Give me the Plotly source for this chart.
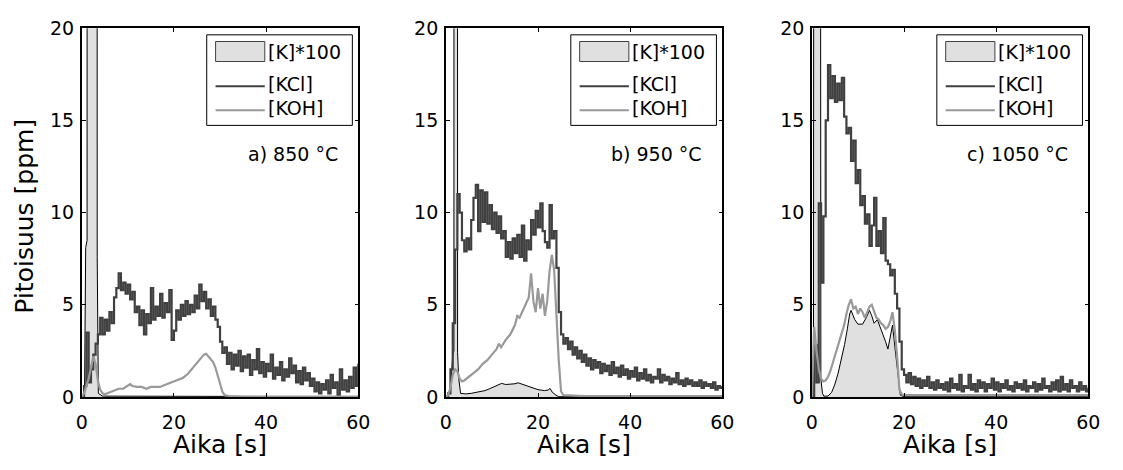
import numpy as np
import plotly.graph_objects as go

FONT = "DejaVu Sans"
W, H = 1123, 470

# ---- data -----------------------------------------------------------------
panel_labels = ["a) 850 °C", "b) 950 °C", "c) 1050 °C"]
series_names = ["[K]*100", "[KCl]", "[KOH]"]
x_ticks = [0, 20, 40, 60]
y_ticks = [0, 5, 10, 15, 20]

# KCl sampled every 0.5 s from 0 to 60 s
t_kcl = np.arange(0, 60.5, 0.5)

kcl_850 = [
    0.0, 0.6, 3.5, 0.8, 1.5, 2.3, 2.9, 3.4, 4.3, 3.4,
    4.2, 3.6, 4.6, 4.0, 5.4, 5.9, 6.7, 5.8, 6.2, 5.6,
    6.1, 5.3, 5.7, 4.6, 4.9, 3.9, 4.7, 3.4, 4.5, 4.0,
    5.9, 4.2, 4.9, 4.4, 5.6, 4.3, 5.1, 4.6, 5.8, 3.1,
    3.6, 4.7, 4.2, 5.0, 4.4, 5.2, 4.5, 5.0, 4.6, 5.5,
    4.8, 6.1, 5.2, 5.7, 4.8, 5.3, 4.4, 4.9, 4.2, 3.8,
    3.0, 2.4, 2.7, 1.8, 2.4, 1.5, 2.3, 1.7, 2.5, 1.4,
    2.2, 1.6, 2.3, 1.2, 2.0, 1.5, 2.6, 1.3, 1.9, 1.1,
    1.8, 1.4, 2.3, 1.0, 1.6, 1.2, 1.9, 0.9, 1.5, 1.1,
    2.1, 1.3, 1.7, 0.8, 1.4, 0.7, 1.6, 0.9, 1.3, 0.6,
    1.0, 0.3, 0.8, 0.2, 0.7, 0.4, 0.9, 0.2, 1.2, 0.5,
    0.8, 0.1, 1.5, 0.4, 0.9, 0.3, 1.1, 0.5, 1.6, 0.6,
    1.8,
]
kcl_950 = [
    0.0, 0.2, 1.5, 4.0, 8.0, 11.0, 10.0, 8.5, 7.9, 8.6,
    8.0, 9.6, 10.8, 11.5, 9.0, 11.2, 9.5, 11.1, 9.4, 10.4,
    9.1, 10.0, 8.9, 9.8, 8.6, 9.0, 7.6, 8.4, 7.5, 8.6,
    7.8, 8.8, 7.6, 9.3, 7.4, 8.5, 8.0, 9.6, 8.8, 10.1,
    9.2, 10.5, 9.0, 8.4, 8.1, 10.4, 8.6, 9.0, 7.0, 4.6,
    3.4, 2.9, 3.2, 2.6, 3.0, 2.3, 2.7, 2.1, 2.5, 1.9,
    2.3, 1.7, 2.1, 1.5, 2.0, 1.6, 1.9, 1.3, 1.8, 1.4,
    1.7, 1.2, 1.9, 1.3, 1.6, 1.1, 1.7, 1.2, 1.5, 1.0,
    1.4, 1.1, 1.6, 0.9, 1.3, 1.0, 1.5, 0.9, 1.2, 0.8,
    1.1, 1.0, 1.5, 0.8, 1.2, 0.9, 1.1, 0.7, 1.0, 0.8,
    1.3, 0.7, 0.9, 0.6, 1.0, 0.7, 0.9, 0.6, 0.8, 0.6,
    0.9, 0.5, 0.8, 0.6, 0.7, 0.5, 0.8, 0.4, 0.6, 0.5,
    0.6,
]
kcl_1050 = [
    0.0, 2.8, 0.8, 10.5, 6.2, 9.8, 15.0, 18.0, 16.2, 17.4,
    16.0, 17.0, 16.1, 17.3, 15.2, 14.3, 14.6, 12.8, 13.9, 11.6,
    12.3, 10.4, 10.9, 9.4, 9.9, 8.2, 9.3, 10.8, 8.2, 9.0,
    7.8, 9.7, 7.4, 7.2, 6.6, 6.9, 5.6, 4.8, 3.0, 1.5,
    1.2, 0.8, 1.3, 0.7, 1.1, 0.6, 1.0, 0.5, 0.9, 0.6,
    1.1, 0.5, 0.8, 0.4, 0.9, 0.5, 0.7, 0.4, 0.8, 0.3,
    1.0, 0.5, 0.7, 0.4, 1.2, 0.3, 0.6, 0.5, 1.2, 0.4,
    0.7, 0.3, 0.9, 0.5, 0.8, 0.3, 0.7, 0.5, 1.0, 0.4,
    0.8, 0.3, 0.7, 0.5, 0.9, 0.4, 0.6, 0.3, 0.8, 0.5,
    0.7, 0.4, 0.9, 0.3, 0.6, 0.5, 0.8, 0.3, 0.7, 0.4,
    1.0, 0.5, 0.6, 0.3, 0.8, 0.4, 0.9, 0.3, 1.1, 0.4,
    0.7, 0.3, 0.9, 0.5, 0.6, 0.3, 0.8, 0.4, 0.6, 0.3,
    0.5,
]

# KOH
t_koh_850 = [0, 0.5, 1, 1.5, 2, 2.5, 3, 3.5, 4, 4.5,
             5, 6, 7, 8, 9, 10, 10.5, 11, 12, 13,
             14, 15, 16, 17, 18, 19, 20, 21, 22, 23,
             24, 25, 26, 26.5, 27, 27.5, 28, 28.5, 29, 29.5,
             30, 30.5, 31, 32, 35, 40, 45, 50, 55, 60]
koh_850 = [0, 0.2, 0.6, 1.0, 1.6, 2.2, 1.8, 0.9, 0.4, 0.2,
           0.15, 0.25, 0.35, 0.45, 0.45, 0.6, 0.7, 0.6, 0.55, 0.55,
           0.45, 0.55, 0.55, 0.55, 0.65, 0.75, 0.85, 0.95, 1.05, 1.25,
           1.55, 1.8, 2.15, 2.3, 2.35, 2.2, 2.1, 1.9, 1.6, 1.2,
           0.8, 0.3, 0.1, 0.05, 0.03, 0.03, 0.02, 0.02, 0.02, 0.02]

t_koh_950 = [0, 0.5, 1, 1.5, 2, 2.5, 3, 3.5, 4, 5,
             6, 7, 8, 9, 10, 11, 11.5, 12, 13, 14,
             15, 15.5, 16, 17, 17.5, 18, 18.5, 19, 19.5, 20,
             20.5, 21, 21.5, 22, 22.5, 23, 23.5, 24, 24.5, 25,
             25.5, 30, 40, 50, 60]
koh_950 = [0, 0.1, 0.5, 1.2, 1.5, 1.4, 1.0, 0.85, 0.9, 1.1,
           1.3, 1.5, 1.8, 2.0, 2.3, 2.6, 2.9, 2.7, 3.1, 3.4,
           3.9, 4.4, 4.3, 4.9, 5.2, 5.4, 6.7, 5.2, 4.6, 5.9,
           4.8, 5.6, 4.4, 5.2, 6.8, 7.7, 6.9, 4.4, 2.0, 0.3,
           0.1, 0.05, 0.05, 0.05, 0.05]

t_koh_1050 = [0, 0.5, 1, 1.5, 2, 2.5, 3, 3.5, 4, 4.5,
              5, 5.5, 6, 6.5, 7, 7.5, 8, 8.5, 9, 9.5,
              10, 10.5, 11, 11.5, 12, 12.5, 13, 13.5, 14, 14.5,
              15, 15.5, 16, 16.5, 17, 17.5, 18, 18.5, 19, 19.5,
              20, 30, 40, 50, 60]
koh_1050 = [0, 3.8, 2.5, 1.5, 1.0, 0.85, 0.9, 1.1, 1.4, 1.8,
            2.2, 2.6, 3.0, 3.4, 3.9, 4.5, 5.0, 5.3, 4.8, 4.9,
            4.5, 4.8, 4.6, 4.3, 4.6, 4.9, 5.0, 4.6, 4.3, 4.2,
            4.0, 3.9, 3.7, 3.8, 4.1, 4.6, 3.6, 2.2, 0.4, 0.15,
            0.1, 0.1, 0.1, 0.1, 0.1]

# atomic K (scaled by 100)
t_k_850 = [0, 0.6, 0.85, 1.15, 1.2, 3.3, 3.35, 3.45, 3.6, 4.5, 60]
k_850 = [0, 0.1, 8.1, 8.5, 80, 80, 7.6, 1.0, 0.2, 0.05, 0.02]

t_k_950 = [0, 1.0, 1.5, 1.75, 1.8, 2.5, 2.55, 2.8, 3.2, 4.3,
           5.5, 7.1, 8.5, 9.5, 10.7, 12.1, 13.0, 14.2, 15.0, 15.7,
           16.5, 17.8, 19.0, 20.0, 21.4, 22.2, 22.6, 23.1, 23.9, 24.5,
           30, 40, 50, 60]
k_950 = [0, 0.3, 2.3, 2.5, 80, 80, 2.4, 1.0, 0.2, 0.17,
         0.2, 0.26, 0.35, 0.45, 0.6, 0.74, 0.68, 0.7, 0.72, 0.77,
         0.7, 0.6, 0.5, 0.4, 0.35, 0.38, 0.47, 0.26, 0.1, 0.02,
         0.02, 0.03, 0.02, 0.02]

t_k_1050 = [0, 0.35, 0.5, 1.75, 1.95, 2.3, 2.6, 3.5, 4.3, 5.0,
            5.7, 6.4, 7.1, 7.7, 8.2, 8.5, 8.9, 9.3, 10.0, 11.0,
            11.8, 12.5, 13.0, 13.5, 14.2, 15.0, 16.0, 16.5, 17.1, 17.5,
            18.2, 18.9, 19.2, 20, 60]
k_1050 = [0, 0.5, 80, 80, 1.0, 0.2, 0.05, 0.05, 0.26, 0.7,
          1.3, 2.0, 2.85, 3.7, 4.5, 4.7, 4.4, 4.2, 3.95, 3.95,
          4.3, 4.7, 4.4, 4.0, 4.2, 3.7, 3.0, 2.6, 3.4, 3.9,
          2.3, 0.6, 0.1, 0.02, 0.02]

panels = [
    (t_k_850, k_850, kcl_850, t_koh_850, koh_850),
    (t_k_950, k_950, kcl_950, t_koh_950, koh_950),
    (t_k_1050, k_1050, kcl_1050, t_koh_1050, koh_1050),
]

# ---- styling ----------------------------------------------------------------
C_KCL = "#404040"
C_KOH = "#999999"
C_KFILL = "#e0e0e0"

# axes boxes in pixels (left, right); shared top / bottom
AX_X = [(77, 358), (447, 728), (819, 1100)]
AX_TOP, AX_BOT = 18, 405
AX_W = 281
AX_H = AX_BOT - AX_TOP


def px_x(p):
    return p / W


def px_y(p):
    return 1 - p / H


def dom_x(off):
    # horizontal offset (px) from axes left -> domain fraction
    return off / AX_W


def dom_y(py):
    # absolute pixel row -> domain fraction
    return (AX_BOT - py) / AX_H


fig = go.Figure()
shapes = []
annotations = []

for i, (tk, kv, kcl, tkoh, koh) in enumerate(panels):
    sfx = "" if i == 0 else str(i + 1)
    xa, ya = "x" + sfx, "y" + sfx

    fig.add_trace(go.Scatter(
        x=tk, y=kv, mode="lines", name=series_names[0],
        line=dict(color="black", width=1), fill="tozeroy",
        fillcolor=C_KFILL, xaxis=xa, yaxis=ya, showlegend=False))
    fig.add_trace(go.Scatter(
        x=t_kcl, y=kcl, mode="lines", name=series_names[1],
        line=dict(color=C_KCL, width=2.2, shape="hv"), xaxis=xa, yaxis=ya,
        showlegend=False))
    fig.add_trace(go.Scatter(
        x=tkoh, y=koh, mode="lines", name=series_names[2],
        line=dict(color=C_KOH, width=2.2), xaxis=xa, yaxis=ya,
        showlegend=False))

    l, r = AX_X[i]
    axis_common = dict(
        showline=True, linecolor="black", linewidth=1.5, mirror="ticks",
        ticks="inside", ticklen=4, tickwidth=1.2, tickcolor="black",
        showgrid=False, zeroline=False,
        tickfont=dict(family=FONT, size=19, color="black"),
    )
    fig.update_layout(**{
        "xaxis" + sfx: dict(domain=[px_x(l), px_x(r)], range=[0, 60],
                            tickvals=x_ticks, anchor=ya,
                            ticklabelstandoff=7, **axis_common),
        "yaxis" + sfx: dict(domain=[px_y(AX_BOT), px_y(AX_TOP)],
                            range=[0, 20], tickvals=y_ticks, anchor=xa,
                            ticklabelstandoff=2, **axis_common),
    })

    xr, yr = xa + " domain", ya + " domain"
    # legend box
    shapes.append(dict(type="rect", xref=xr, yref=yr,
                       x0=dom_x(127), x1=dom_x(275),
                       y0=dom_y(120), y1=dom_y(25),
                       line=dict(color="black", width=1),
                       fillcolor="white", layer="above"))
    shapes.append(dict(type="rect", xref=xr, yref=yr,
                       x0=dom_x(136), x1=dom_x(186),
                       y0=dom_y(53), y1=dom_y(32),
                       line=dict(color=C_KCL, width=1),
                       fillcolor=C_KFILL, layer="above"))
    for row_y, col in ((79, C_KCL), (104, C_KOH)):
        shapes.append(dict(type="line", xref=xr, yref=yr,
                           x0=dom_x(136), x1=dom_x(186),
                           y0=dom_y(row_y), y1=dom_y(row_y),
                           line=dict(color=col, width=2), layer="above"))
    for name, row_y in zip(series_names, (43, 77, 102)):
        annotations.append(dict(
            text=name, xref=xr, yref=yr, x=dom_x(187), y=dom_y(row_y),
            xanchor="left", yanchor="middle", showarrow=False,
            font=dict(family=FONT, size=19, color="black")))

    # temperature label
    annotations.append(dict(
        text=panel_labels[i], xref=xr, yref=yr, x=dom_x(262), y=dom_y(150),
        xanchor="right", yanchor="middle", showarrow=False,
        font=dict(family=FONT, size=19, color="black")))

    # x-axis title
    annotations.append(dict(
        text="Aika [s]", xref=xr, yref="paper", x=0.5, y=px_y(472),
        xanchor="center", yanchor="bottom", showarrow=False,
        font=dict(family=FONT, size=25, color="black")))

# y-axis title (left panel only)
annotations.append(dict(
    text="Pitoisuus [ppm]", xref="paper", yref="paper",
    x=px_x(19), y=px_y(215), xanchor="center", yanchor="middle",
    textangle=-90, showarrow=False,
    font=dict(family=FONT, size=25, color="black")))

fig.update_layout(
    width=W, height=H,
    margin=dict(l=0, r=0, t=0, b=0),
    paper_bgcolor="white", plot_bgcolor="white",
    shapes=shapes, annotations=annotations,
    showlegend=False,
    font=dict(family=FONT, color="black"),
)

fig.write_html("out.html")
